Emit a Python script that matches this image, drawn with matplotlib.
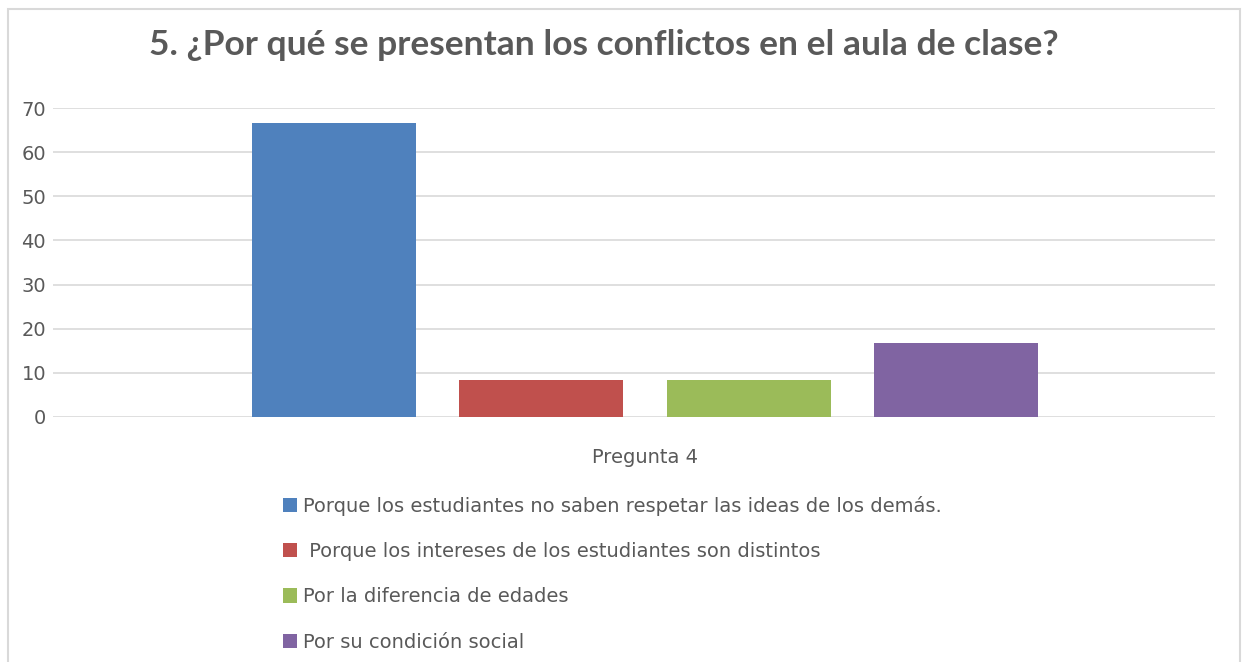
import matplotlib
matplotlib.use("Agg")
import matplotlib.pyplot as plt
from matplotlib.patches import Rectangle

# Datos del gráfico
categoria = "Pregunta 4"
respuestas = [
    "Porque los estudiantes no saben respetar las ideas de los demás.",
    " Porque los intereses de los estudiantes son distintos",
    "Por la diferencia de edades",
    "Por su condición social",
]
porcentajes = [66.67, 8.33, 8.33, 16.67]
colores = ["#4f81bd", "#c0504d", "#9bbb59", "#8064a2"]
yticks = [0, 10, 20, 30, 40, 50, 60, 70]

plt.rcParams["font.family"] = ["DejaVu Sans"]
gris = "#595959"

fig = plt.figure(figsize=(12.47, 6.62), dpi=100)
ax = fig.add_axes([53 / 1247, 1 - 417 / 662, (1215 - 53) / 1247, (417 - 108) / 662])

posiciones = list(range(len(porcentajes)))
bars = ax.bar(posiciones, porcentajes, width=0.79, color=colores, zorder=3)

ax.set_xlim(-1.352, 4.248)
ax.set_ylim(0, 70)
ax.set_yticks(yticks)
ax.set_xticks([1.5])
ax.set_xticklabels([categoria])
ax.tick_params(axis="both", length=0, labelsize=14, colors=gris)
ax.tick_params(axis="x", pad=22)
ax.tick_params(axis="y", pad=5)
ax.yaxis.grid(True, color="#d9d9d9", linewidth=1.2, zorder=0)
for s in ax.spines.values():
    s.set_visible(False)

fig.text(603.5 / 1247, 0.932, "5. ¿Por qué se presentan los conflictos en el aula de clase?",
         ha="center", va="center", fontsize=25.5, fontweight="bold", color=gris,
         family=["Lato", "DejaVu Sans"])

leg = fig.legend(bars, respuestas, loc="upper left", bbox_to_anchor=(275 / 1247, 1 - 488 / 662),
                 frameon=False, fontsize=14, labelcolor=gris, handlelength=0.75, handleheight=0.75,
                 handletextpad=0.3, labelspacing=1.35, borderaxespad=0)

# Marco del gráfico
fig.patches.append(Rectangle((8 / 1247, -0.05), (1240 - 8) / 1247, 1 - 9 / 662 + 0.05,
                             transform=fig.transFigure, fill=False, edgecolor="#d9d9d9", linewidth=1.5))

fig.savefig("out.png", dpi=100)
